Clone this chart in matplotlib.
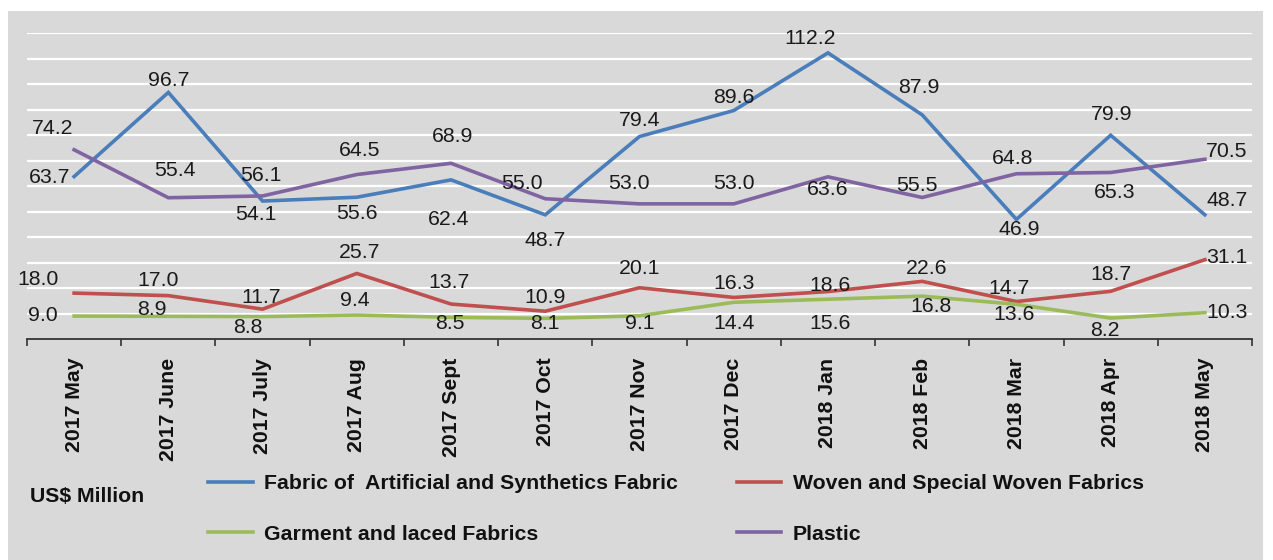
import matplotlib
matplotlib.use("Agg")
import matplotlib.pyplot as plt
from matplotlib.patches import Rectangle
import numpy as np

# ---------------- data ----------------
months = ["2017 May", "2017 June", "2017 July", "2017 Aug", "2017 Sept", "2017 Oct",
          "2017 Nov", "2017 Dec", "2018 Jan", "2018 Feb", "2018 Mar", "2018 Apr", "2018 May"]
fabric_synthetic = [63.7, 96.7, 54.1, 55.6, 62.4, 48.7, 79.4, 89.6, 112.2, 87.9, 46.9, 79.9, 48.7]
woven_special = [18.0, 17.0, 11.7, 25.7, 13.7, 10.9, 20.1, 16.3, 18.6, 22.6, 14.7, 18.7, 31.1]
garment_laced = [9.0, 8.9, 8.8, 9.4, 8.5, 8.1, 9.1, 14.4, 15.6, 16.8, 13.6, 8.2, 10.3]
plastic = [74.2, 55.4, 56.1, 64.5, 68.9, 55.0, 53.0, 53.0, 63.6, 55.5, 64.8, 65.3, 70.5]

names = ["Fabric of  Artificial and Synthetics Fabric", "Woven and Special Woven Fabrics",
         "Garment and laced Fabrics", "Plastic"]
unit_label = "US$ Million"

# ---------------- styles / label placement (pixel offsets from point) ----------------
colors = ["#4a7ebb", "#c0504d", "#9bbb59", "#8064a2"]
off_fabric = [(-24, 1), (0, -12), (-7, 13), (0, 16), (-2, 40), (0, 26), (0, -16), (0, -13),
              (-18, -14), (-3, -27), (3, 10), (1, -21), (22, -14)]
off_woven = [(-36, -14), (-10, -15), (-1, -12), (3, -21), (-2, -22), (0, -14), (0, -19), (0, -14),
             (2, -6), (4, -13), (-7, -13), (0, -17), (22, -2)]
off_garment = [(-31, -1), (-16, -7), (-15, 11), (-2, -15), (-1, 6), (0, 5), (0, 8), (0, 21),
               (2, 24), (9, 10), (-2, 10), (-6, 12), (22, 0)]
off_plastic = [(-21, -21), (7, -27), (-2, -20), (3, -24), (2, -27), (-23, -15), (-11, -20), (0, -20),
               (0, 13), (-5, -12), (-4, -15), (4, 20), (22, -8)]

FS = 15.3
plt.rcParams['font.family'] = ['Liberation Sans', 'DejaVu Sans']

W, H = 1273, 560
fig = plt.figure(figsize=(W / 100, H / 100), dpi=100)
fig.patch.set_facecolor("white")

# gray panel
fig.patches.append(Rectangle((8 / W, 0), (1263 - 8) / W, (H - 11) / H, transform=fig.transFigure,
                             facecolor="#d9d9d9", edgecolor="none", zorder=-10))

ax = fig.add_axes([27 / W, 1 - 339 / H, (1252 - 27) / W, (339 - 33) / H])
ax.patch.set_visible(False)
ax.set_zorder(2)

x = np.arange(len(months))
series = [fabric_synthetic, woven_special, garment_laced, plastic]
offsets = [off_fabric, off_woven, off_garment, off_plastic]

for yv in range(10, 121, 10):
    ax.axhline(yv, color="white", lw=1.6, zorder=1)

lines = []
for vals, col, name in zip(series, colors, names):
    ln, = ax.plot(x, vals, color=col, lw=2.6, zorder=3, label=name, solid_joinstyle="miter")
    lines.append(ln)

for vals, offs in zip(series, offsets):
    for xi, v, (dx, dy) in zip(x, vals, offs):
        ax.annotate(f"{v:.1f}", (xi, v), xytext=(dx, -dy), textcoords="offset pixels",
                    ha="center", va="center", fontsize=FS, color="#1a1a1a", zorder=4)

ax.set_xlim(-0.5, len(months) - 0.5)
ax.set_ylim(0, 120)
ax.set_yticks([])
for s in ["top", "left", "right"]:
    ax.spines[s].set_visible(False)
ax.spines["bottom"].set_color("#333333")
ax.spines["bottom"].set_linewidth(1.3)

ax.set_xticks(x)
ax.set_xticklabels(months, rotation=90, fontsize=FS, fontweight="bold", color="#111111")
ax.tick_params(axis="x", which="major", length=0, pad=13.5)
ax.set_xticks(np.arange(-0.5, len(months), 1.0), minor=True)
ax.tick_params(axis="x", which="minor", length=5, width=1.2, color="#333333", direction="out")

fig.text(30 / W, 1 - 497 / H, unit_label, fontsize=FS, fontweight="bold", color="#111111",
         ha="left", va="center")

handles = [lines[0], lines[2], lines[1], lines[3]]
labels = [names[0], names[2], names[1], names[3]]
leg = fig.legend(handles, labels, ncol=2, loc="upper left",
                 bbox_to_anchor=(208 / W, 1 - 474 / H), frameon=False,
                 prop={"size": FS, "weight": "bold"}, handlelength=2.1, handletextpad=0.55,
                 columnspacing=2.75, labelspacing=1.5, borderpad=0, borderaxespad=0)
for t in leg.get_texts():
    t.set_color("#111111")

fig.savefig("out.png", dpi=100, facecolor=fig.get_facecolor())
